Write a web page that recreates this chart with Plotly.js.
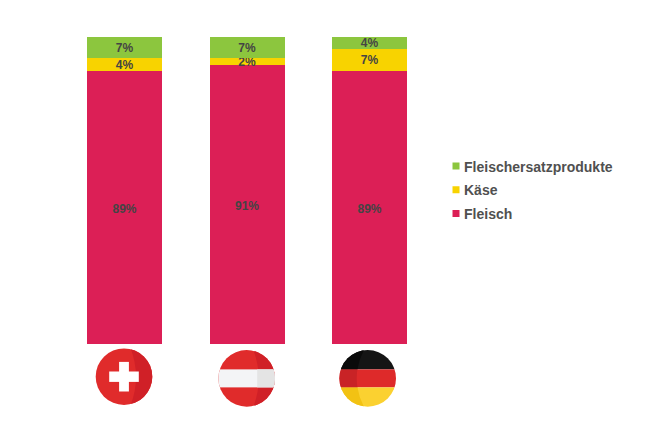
<!DOCTYPE html>
<html><head><meta charset="utf-8">
<script src="https://cdn.plot.ly/plotly-3.0.1.min.js"></script>
<style>html,body{margin:0;padding:0;background:#fff}</style>
</head><body><div id="chart" style="width:660px;height:430px"></div>
<script>
const countries = ["Schweiz", "Österreich", "Deutschland"];
const fleisch = [89, 91, 89];
const kaese = [4, 2, 7];
const ersatz = [7, 7, 4];
const seriesNames = ["Fleischersatzprodukte", "Käse", "Fleisch"];
const seriesColors = ["#8cc63e", "#f8d300", "#dc1f56"];

function flag(body, id) {
  const svg = `<svg xmlns="http://www.w3.org/2000/svg" width="240" height="240" viewBox="-30 -30 60 60"><defs><clipPath id="${id}"><circle r="28.3"/></clipPath></defs><g clip-path="url(#${id})">${body}</g></svg>`;
  return "data:image/svg+xml;charset=utf-8," + encodeURIComponent(svg);
}
const rightShade = "M6,-30 Q18,0 6,30 H31 V-30Z";
const leftShade = "M-3,-30 Q-19,0 -3,30 H-31 V-30Z";
const flagCH = flag(`<rect x="-30" y="-30" width="60" height="60" fill="#e02b2b"/><path d="${rightShade}" fill="#d02027"/><rect x="-14.8" y="-5.2" width="29.6" height="10.4" fill="#fff"/><rect x="-4.9" y="-14.8" width="9.8" height="29.6" fill="#fff"/>`, "ch");
const flagAT = flag(`<rect x="-30" y="-30" width="60" height="60" fill="#e02b2b"/><path d="${rightShade}" fill="#d02027"/><rect x="-30" y="-9" width="60" height="18" fill="#f3f4f6"/><rect x="10.5" y="-9" width="20" height="18" fill="#e4e4e4"/>`, "at");
const flagDE = flag(`<rect x="-30" y="-30" width="60" height="21" fill="#151515"/><rect x="-30" y="-9" width="60" height="18" fill="#de2a2a"/><rect x="-30" y="9" width="60" height="21" fill="#fbd130"/><clipPath id="t"><rect x="-30" y="-30" width="60" height="21"/></clipPath><clipPath id="m"><rect x="-30" y="-9" width="60" height="18"/></clipPath><clipPath id="b"><rect x="-30" y="9" width="60" height="21"/></clipPath><path d="${leftShade}" fill="#0a0a0a" clip-path="url(#t)"/><path d="${leftShade}" fill="#c92326" clip-path="url(#m)"/><path d="${leftShade}" fill="#f2c213" clip-path="url(#b)"/>`, "de");

const barText = {family: "Liberation Sans, Arial, sans-serif", size: 12, color: "#444444", weight: "bold"};
function bar(name, values, color) {
  return {type: "bar", name: name, x: countries, y: values, legendgroup: name, showlegend: false,
    marker: {color: color, line: {width: 0}}, texttemplate: "%{y}%", textposition: "inside",
    insidetextanchor: "middle", textangle: 0, constraintext: "none", insidetextfont: barText, hoverinfo: "name+y"};
}
function key(name, color) {
  return {type: "scatter", mode: "markers", name: name, x: [countries[0]], y: [null], legendgroup: name,
    marker: {color: color, symbol: "square", size: 7}, hoverinfo: "skip"};
}
const traces = [
  bar(seriesNames[2], fleisch, seriesColors[2]),
  bar(seriesNames[1], kaese, seriesColors[1]),
  bar(seriesNames[0], ersatz, seriesColors[0]),
  key(seriesNames[0], seriesColors[0]),
  key(seriesNames[1], seriesColors[1]),
  key(seriesNames[2], seriesColors[2])
];
const flagW = 60 / 122.5, flagH = 60 / 307;
function img(src, i, dxPx, py) {
  return {source: src, xref: "x", yref: "paper", x: i + dxPx / 122.5, y: py, sizex: flagW, sizey: flagH,
    xanchor: "center", yanchor: "middle", sizing: "stretch", layer: "above"};
}
const layout = {
  width: 660, height: 430, paper_bgcolor: "#fff", plot_bgcolor: "#fff", showlegend: true,
  margin: {l: 63, r: 229, t: 37, b: 86, pad: 0},
  barmode: "stack", bargap: 0.388,
  font: {family: "Liberation Sans, Arial, sans-serif", color: "#444444"},
  xaxis: {type: "category", categoryorder: "array", categoryarray: countries, range: [-0.50367, 2.50041], showticklabels: false, showgrid: false, zeroline: false, showline: false, ticks: "", fixedrange: true},
  yaxis: {range: [0, 100], showticklabels: false, showgrid: false, zeroline: false, showline: false, ticks: "", fixedrange: true},
  legend: {x: 0.981, xanchor: "left", y: 0.5016, yanchor: "middle", traceorder: "grouped", tracegroupgap: 2.5, bgcolor: "rgba(0,0,0,0)",
    font: {family: "Liberation Sans, Arial, sans-serif", size: 14, color: "#505050", weight: "bold"}, itemsizing: "trace"},
  images: [img(flagCH, 0, -0.7, -0.1065), img(flagAT, 1, -0.5, -0.112), img(flagDE, 2, -2.0, -0.112)]
};
function nudge() {
  const root = document.getElementById("chart");
  root.querySelectorAll(".legend .legendpoints").forEach(el => {
    if (!el.dataset.n) { el.dataset.n = 1; el.setAttribute("transform", (el.getAttribute("transform") || "") + " translate(12,0)"); }
  });
  const first = root.querySelector(".barlayer .trace");
  if (first) first.querySelectorAll("text").forEach(el => {
    if (!el.dataset.n) { el.dataset.n = 1; el.setAttribute("transform", "translate(0,2) " + (el.getAttribute("transform") || "")); }
  });
}
Plotly.newPlot("chart", traces, layout, {displayModeBar: false}).then(gd => { nudge(); gd.on("plotly_afterplot", nudge); });
</script></body></html>
